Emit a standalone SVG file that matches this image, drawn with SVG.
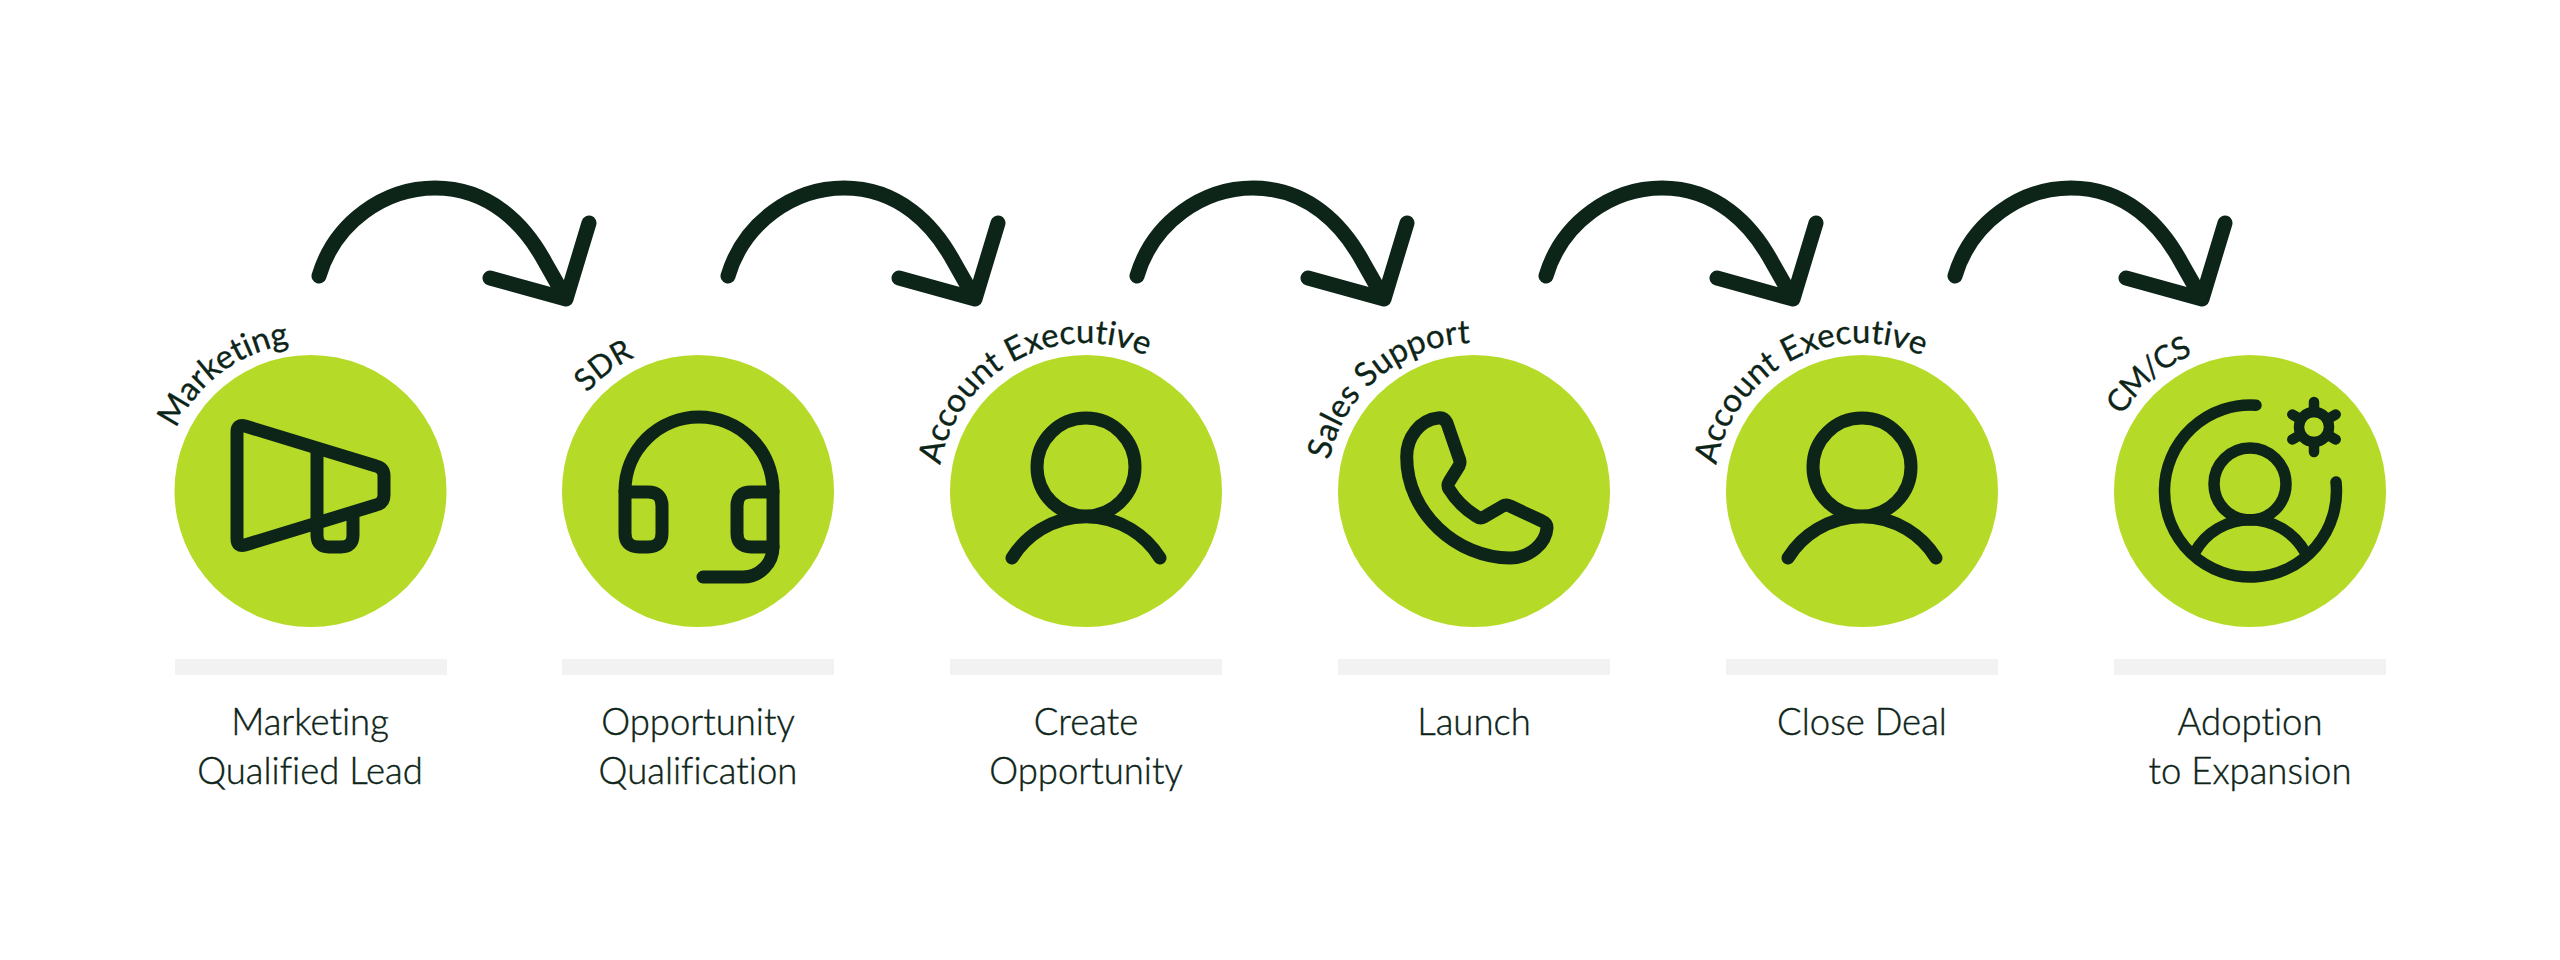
<svg xmlns="http://www.w3.org/2000/svg" width="2560" height="960" viewBox="0 0 2560 960">
<style>
.disc{fill:#b5da27}
.bar{fill:#f2f2f2}
.ic{fill:none;stroke:#0d2418;stroke-width:13;stroke-linecap:round;stroke-linejoin:round}
.thin{stroke-width:11.500}
.gear{stroke-width:10.500}
.arr{fill:none;stroke:#0d2418;stroke-width:15;stroke-linecap:round;stroke-linejoin:round}
.cap{font-family:"Lato","Liberation Sans",sans-serif;font-size:36.500px;font-weight:300;fill:#0d2418;text-anchor:middle;font-variant-ligatures:none;stroke:#0d2418;stroke-width:.4}
.role{font-family:"Lato","Liberation Sans",sans-serif;font-size:33px;fill:#0d2418;font-variant-ligatures:none;stroke:#0d2418;stroke-width:.3}
.short{font-size:31px}
</style>
<defs>
<path id="ring" d="M-148 0A148 148 0 1 1 148 0"/>
<path id="curve" d="M319 276C335 222 385 188 435 188C490 188 525 225 545 262L566 299M490 278L566 299L589 223"/>
</defs>
<rect width="2560" height="960" fill="#fff"/>
<g id="connectors">
<use href="#curve" class="arr"/>
<use href="#curve" class="arr" x="409"/>
<use href="#curve" class="arr" x="818"/>
<use href="#curve" class="arr" x="1227"/>
<use href="#curve" class="arr" x="1636"/>
</g>
<g id="node-marketing">
<circle class="disc" cx="310.500" cy="491" r="136"/>
<rect class="bar" x="175" y="659" width="272" height="16"/>
<path class="ic" d="M237 432Q237 424 245 426L376 466Q384 468 384 476V495Q384 503 376 505L245 545Q237 547 237 539Z"/>
<path class="ic" d="M317 452V535Q317 547 329 547H341Q353 547 353 535V518"/>
<g transform="translate(310.500 491)"><text class="role"><textPath href="#ring" startOffset="64">Marketing</textPath></text></g>
<text class="cap" x="310" y="735">Marketing</text>
<text class="cap" x="310" y="784">Qualified Lead</text>
</g>
<g id="node-sdr">
<circle class="disc" cx="698" cy="491" r="136"/>
<rect class="bar" x="562" y="659" width="272" height="16"/>
<path class="ic" d="M625 491A74 74 0 0 1 773 491V547A30 30 0 0 1 743 577H703"/>
<path class="ic" d="M625 492H648Q662 492 662 506V533Q662 547 648 547H639Q625 547 625 533Z"/>
<path class="ic" d="M773 492H751Q737 492 737 506V533Q737 547 751 547H773"/>
<g transform="translate(698 491)"><text class="role short"><textPath href="#ring" startOffset="107">SDR</textPath></text></g>
<text class="cap" x="698" y="735">Opportunity</text>
<text class="cap" x="698" y="784">Qualification</text>
</g>
<g id="node-create">
<circle class="disc" cx="1086" cy="491" r="136"/>
<rect class="bar" x="950" y="659" width="272" height="16"/>
<circle class="ic" cx="1086" cy="467" r="49"/>
<path class="ic" d="M1012 558A87 87 0 0 1 1160 558"/>
<g transform="translate(1086 491)"><text class="role"><textPath href="#ring" startOffset="26">Account Executive</textPath></text></g>
<text class="cap" x="1086" y="735">Create</text>
<text class="cap" x="1086" y="784">Opportunity</text>
</g>
<g id="node-launch">
<circle class="disc" cx="1474" cy="491" r="136"/>
<rect class="bar" x="1338" y="659" width="272" height="16"/>
<path class="ic" d="M1438 418C1420 420 1406.700 437 1406.700 457C1406.700 513 1457 558 1510 558C1530 558 1546 543 1547 528Q1547 523 1542 521L1510 506Q1506 504 1502 506.500L1484 517Q1480 519 1476 516C1465 509 1455 499 1449 489Q1447 485 1449 482L1459 466Q1461 462 1459 458L1447 423Q1444 417 1438 418Z"/>
<g transform="translate(1474 491)"><text class="role"><textPath href="#ring" startOffset="31">Sales Support</textPath></text></g>
<text class="cap" x="1474" y="735">Launch</text>
</g>
<g id="node-close">
<circle class="disc" cx="1862" cy="491" r="136"/>
<rect class="bar" x="1726" y="659" width="272" height="16"/>
<circle class="ic" cx="1862" cy="467" r="49"/>
<path class="ic" d="M1788 558A87 87 0 0 1 1936 558"/>
<g transform="translate(1862 491)"><text class="role"><textPath href="#ring" startOffset="26">Account Executive</textPath></text></g>
<text class="cap" x="1862" y="735">Close Deal</text>
</g>
<g id="node-adoption">
<circle class="disc" cx="2250" cy="491" r="136"/>
<rect class="bar" x="2114" y="659" width="272" height="16"/>
<path class="ic thin" d="M2256 405.200A86 86 0 1 0 2336 482"/>
<circle class="ic thin" cx="2250" cy="484" r="36"/>
<path class="ic thin" d="M2195 552A63 63 0 0 1 2305 552"/>
<circle class="ic gear" cx="2314" cy="427" r="15"/>
<path class="ic gear" d="M2314 412V402M2314 442V452M2327 419.500L2335.700 414.500M2301 434.500L2292.300 439.500M2327 434.500L2335.700 439.500M2301 419.500L2292.300 414.500"/>
<g transform="translate(2250 491)"><text class="role short" style="letter-spacing:-1.500px"><textPath href="#ring" startOffset="79">CM/CS</textPath></text></g>
<text class="cap" x="2250" y="735">Adoption</text>
<text class="cap" x="2250" y="784">to Expansion</text>
</g>
</svg>
